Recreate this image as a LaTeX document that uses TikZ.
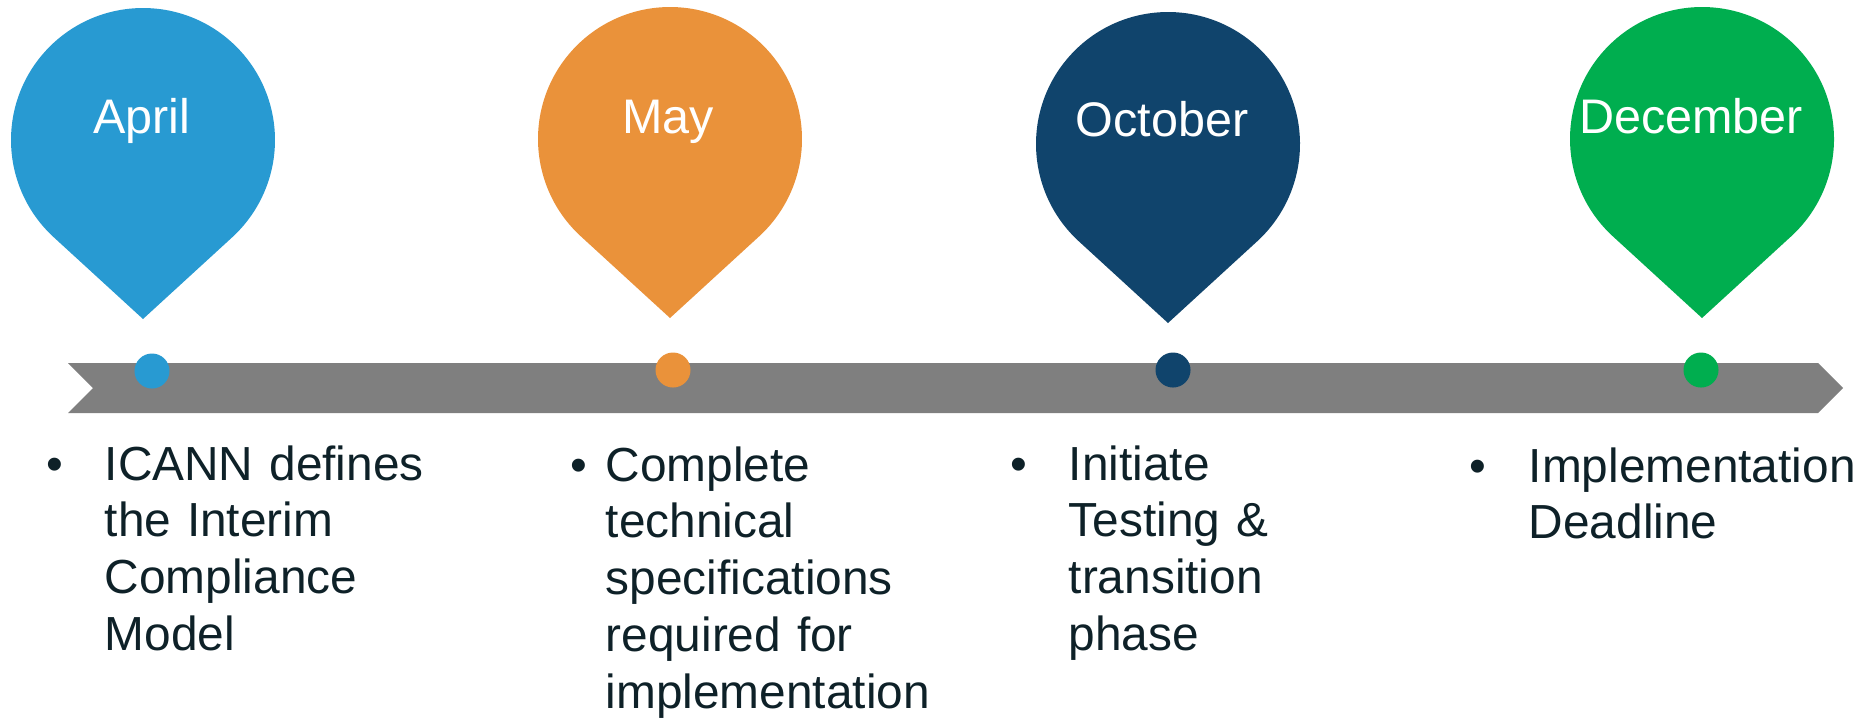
\documentclass[tikz,border=0pt]{standalone}
\usepackage{fontspec}
\setmainfont{Liberation Sans}
\usetikzlibrary{calc}
\definecolor{cblue}{HTML}{289AD2}
\definecolor{corange}{HTML}{EA923A}
\definecolor{cnavy}{HTML}{10446C}
\definecolor{cgreen}{HTML}{00AE4F}
\definecolor{cbar}{HTML}{7F7F7F}
\definecolor{ctext}{HTML}{0E2128}
\newcommand\mypin[3]{% center x, center y, colour
  \fill[#3] ($(#1,#2)+(0,179)$) -- ($(#1,#2)+(132.5:132)$)
    arc[start angle=132.5,end angle=407.5,radius=132] -- cycle;}
\tikzset{
  month/.style={text=white,font=\fontsize{13.8}{16.6}\selectfont,anchor=base,inner sep=0pt},
  dot/.style={circle,minimum size=0.35cm,inner sep=0pt,draw=none},
  bullet/.style={text=ctext,font=\fontsize{13.6}{16.2}\selectfont,anchor=base,inner sep=0pt},
  item/.style={text=ctext,font=\fontsize{13.6}{16.2}\selectfont,anchor=base west,inner sep=0pt,
    text width=8cm,align=left},
}
\begin{document}
\begin{tikzpicture}[x=0.01cm,y=-0.01cm]
\useasboundingbox (0,0) rectangle (1867,717);
% bar
\fill[cbar] (68,363) -- (1818,363) -- (1843,388) -- (1818,413) -- (68,413) -- (93,388) -- cycle;
% pins
\mypin{143}{140}{cblue}
\mypin{670}{139}{corange}
\mypin{1168}{144}{cnavy}
\mypin{1702}{139}{cgreen}
% month labels
\node[month] (m1) at (142,133) {April};
\node[month] (m2) at (668,133) {May};
\node[month] (m3) at (1162,136) {October};
\node[month] (m4) at (1691,133) {December};
% dots
\node[dot,fill=cblue] (d1) at (152,371) {};
\node[dot,fill=corange] (d2) at (673,370) {};
\node[dot,fill=cnavy] (d3) at (1173,370) {};
\node[dot,fill=cgreen] (d4) at (1701,370) {};
% bullets
\node[bullet] (b1) at (55,480) {•};
\node[bullet] (b2) at (579,481) {•};
\node[bullet] (b3) at (1019,480) {•};
\node[bullet] (b4) at (1478,482) {•};
% items
\node[item] (t1) at (104,480) {ICANN defines\\the Interim\\Compliance\\Model};
\node[item] (t2) at (605,481) {Complete\\technical\\specifications\\required for\\implementation};
\node[item] (t3) at (1068,480) {Initiate\\Testing \&\\transition\\phase};
\node[item] (t4) at (1528,482) {Implementation\\Deadline};
\end{tikzpicture}
\end{document}
